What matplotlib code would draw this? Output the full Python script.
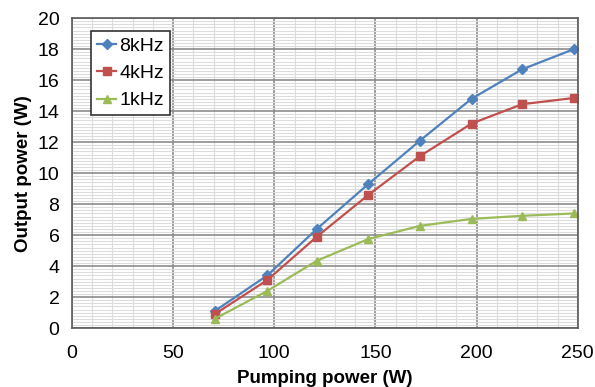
import matplotlib
matplotlib.use("Agg")
import matplotlib.pyplot as plt
from matplotlib.ticker import MultipleLocator

plt.rcParams['font.family'] = ['Liberation Sans', 'DejaVu Sans']

# Data
pump_power = [70.5, 96.5, 121, 146.5, 172, 197.5, 222.5, 248]
out_8khz = [1.1, 3.4, 6.4, 9.3, 12.1, 14.8, 16.7, 18.0]
out_4khz = [0.9, 3.1, 5.9, 8.6, 11.1, 13.2, 14.45, 14.85]
out_1khz = [0.6, 2.4, 4.35, 5.75, 6.6, 7.05, 7.25, 7.4]

fig = plt.figure(figsize=(5.95, 3.87), dpi=100)
ax = fig.add_axes([0.121, 0.152, 0.850, 0.801])

ax.plot(pump_power, out_8khz, color='#4F81BD', marker='D', markersize=5, lw=1.6, label='8kHz')
ax.plot(pump_power, out_4khz, color='#C0504D', marker='s', markersize=6, lw=1.6, label='4kHz')
ax.plot(pump_power, out_1khz, color='#9BBB59', marker='^', markersize=5.5, lw=1.6, label='1kHz')

ax.set_xlim(0, 250)
ax.set_ylim(0, 20)
ax.xaxis.set_major_locator(MultipleLocator(50))
ax.xaxis.set_minor_locator(MultipleLocator(10))
ax.yaxis.set_major_locator(MultipleLocator(2))
ax.yaxis.set_minor_locator(MultipleLocator(0.2))
ax.grid(which='minor', color='#dcdcdc', lw=0.8)
ax.grid(which='major', color='#8c8c8c', lw=1.2)
ax.set_axisbelow(True)
ax.tick_params(which='both', length=0, labelsize=14)
ax.tick_params(axis='x', pad=12)
ax.tick_params(axis='y', pad=9)
for s in ax.spines.values():
    s.set_color('#5a5a5a')
    s.set_linewidth(1.2)

ax.set_xlabel('Pumping power (W)', fontsize=13.5, fontweight='bold', labelpad=6)
ax.set_ylabel('Output power (W)', fontsize=13.5, fontweight='bold', labelpad=4)

leg = ax.legend(loc='upper left', bbox_to_anchor=(0.03, 0.97), fontsize=14, fancybox=False,
                framealpha=1, edgecolor='#333333', handlelength=1.0, handletextpad=0.15,
                borderpad=0.3, labelspacing=0.5, borderaxespad=0.2)
leg.get_frame().set_linewidth(1.2)

fig.savefig('out.png', dpi=100)
